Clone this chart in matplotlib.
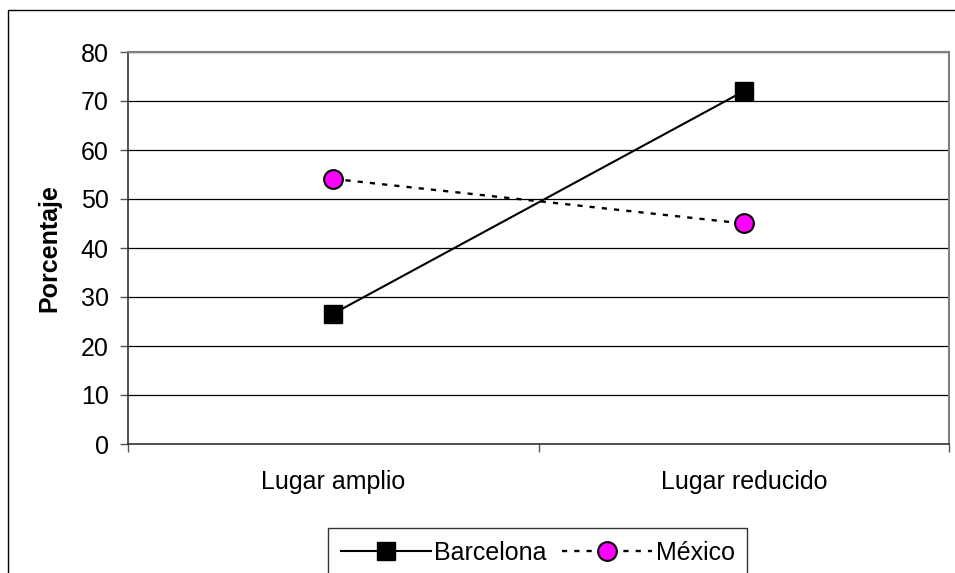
import matplotlib
matplotlib.use("Agg")
import matplotlib.pyplot as plt
from matplotlib.patches import Rectangle
from matplotlib.ticker import FixedLocator, NullFormatter

plt.rcParams['font.family'] = ['Liberation Sans', 'DejaVu Sans']

categories = ["Lugar amplio", "Lugar reducido"]
barcelona = [26.6, 72.0]
mexico = [54.1, 45.0]
y_ticks = [0, 10, 20, 30, 40, 50, 60, 70, 80]

W, H = 955, 573
fig = plt.figure(figsize=(W / 100, H / 100), dpi=100)

# outer chart frame
fig.patches.append(Rectangle((8 / W, -0.1), 1.2, 1 - 10 / H + 0.1,
                             transform=fig.transFigure, fill=False,
                             edgecolor='black', linewidth=1.0))

ax = fig.add_axes([128 / W, 1 - 444 / H, (949 - 128) / W, (444 - 52) / H])

x = list(range(len(categories)))
ax.plot(x, barcelona, color='black', linewidth=1.5, marker='s',
        markersize=13, markerfacecolor='black', markeredgecolor='black',
        label='Barcelona', zorder=3)
ax.plot(x, mexico, color='black', linewidth=1.7, linestyle=(0, (2.2, 3.0)),
        marker='o', markersize=13.5, markerfacecolor='#ff00ff',
        markeredgecolor='black', markeredgewidth=1.5, label='México', zorder=3)

ax.set_xlim(-0.5, len(categories) - 0.5)
ax.set_ylim(0, 80)
ax.set_yticks(y_ticks)
ax.yaxis.grid(True, color='black', linewidth=0.9)
ax.set_axisbelow(True)

ax.set_xticks(x)
ax.set_xticklabels(categories)
ax.xaxis.set_minor_locator(FixedLocator([-0.5 + i for i in range(len(categories) + 1)]))
ax.xaxis.set_minor_formatter(NullFormatter())
ax.tick_params(axis='x', which='major', length=0, pad=19, labelsize=18)
ax.tick_params(axis='x', which='minor', length=6, width=1.0, color='#555555')
ax.tick_params(axis='y', length=6, width=1.0, pad=8, labelsize=18, color='#555555')

for side in ('top', 'right'):
    ax.spines[side].set_color('#808080')
    ax.spines[side].set_linewidth(1.5)
for side in ('left', 'bottom'):
    ax.spines[side].set_color('#333333')
    ax.spines[side].set_linewidth(1.2)

ax.set_ylabel('Porcentaje', fontsize=18, fontweight='bold', labelpad=14)

leg = fig.legend(loc='upper center', bbox_to_anchor=(537.5 / W, 1 - 528 / H),
                 ncol=2, fontsize=18, frameon=True, fancybox=False,
                 edgecolor='black', handlelength=3.6, handletextpad=0.15,
                 columnspacing=0.6, borderpad=0.5, borderaxespad=0)
leg.get_frame().set_linewidth(1.0)

fig.savefig('out.png', dpi=100)
